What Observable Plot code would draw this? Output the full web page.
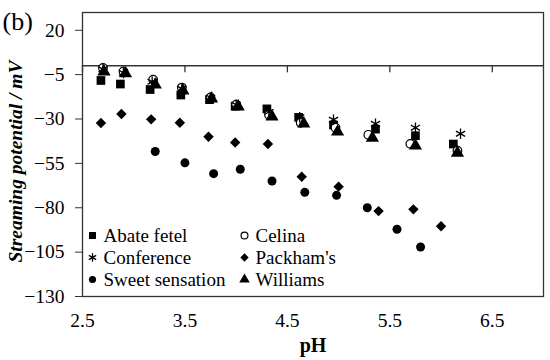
<!DOCTYPE html>
<html><head><meta charset="utf-8">
<script src="https://cdn.jsdelivr.net/npm/d3@7"></script>
<script src="https://cdn.jsdelivr.net/npm/@observablehq/plot@0.6"></script>
<style>body{margin:0;background:#fff} #chart{width:550px;height:360px} #chart svg, #chart svg text{font-family:"Liberation Serif", serif}</style>
</head><body><div id="chart"></div>
<script>
// ---- data ----
const seriesNames = ["Abate fetel", "Celina", "Conference", "Packham's", "Sweet sensation", "Williams"];

const pHAbate = [2.68, 2.87, 3.16, 3.46, 3.74, 3.99, 4.30, 4.61, 4.95, 5.36, 5.75, 6.12];
const spAbate = [-8.3, -10.3, -13.4, -16.5, -19.1, -22.8, -24.3, -29.1, -33.4, -35.7, -39.4, -44.1];

const pHCelina = [2.70, 2.90, 3.19, 3.47, 3.75, 4.00, 4.32, 4.63, 4.97, 5.29, 5.70, 6.16];
const spCelina = [-1.2, -3.2, -7.8, -12.3, -17.9, -21.9, -27.6, -32.1, -34.9, -38.9, -44.0, -47.9];

const pHConference = [2.70, 2.90, 3.18, 3.47, 3.75, 4.00, 4.32, 4.62, 4.95, 5.36, 5.75, 6.19];
const spConference = [-2.0, -4.0, -9.0, -13.0, -18.0, -22.0, -26.0, -29.0, -30.4, -32.7, -34.9, -38.3];

const pHPackham = [2.68, 2.88, 3.17, 3.45, 3.73, 3.99, 4.31, 4.64, 5.00, 5.39, 5.73, 6.00];
const spPackham = [-32.3, -27.2, -30.2, -32.1, -40.0, -43.2, -44.1, -62.5, -68.1, -81.9, -80.9, -90.4];

const pHSweet = [3.21, 3.50, 3.78, 4.04, 4.35, 4.67, 4.98, 5.28, 5.57, 5.80];
const spSweet = [-48.3, -54.7, -60.8, -58.3, -64.9, -71.3, -73.0, -80.0, -92.1, -102.1];

const pHWilliams = [2.71, 2.92, 3.21, 3.48, 3.76, 4.02, 4.35, 4.66, 4.99, 5.33, 5.75, 6.16];
const spWilliams = [-3.3, -4.4, -10.6, -14.0, -18.5, -23.0, -28.7, -32.6, -37.2, -40.6, -45.1, -49.1];

const xTicks = [2.5, 3.5, 4.5, 5.5, 6.5];
const yTicks = [20, -5, -30, -55, -80, -105, -130];

// ---- build tables ----
const toRows = (xs, ys) => xs.map((x, i) => ({pH: x, sp: ys[i]}));
const styles = [
  {symbol: "square", fill: "black", stroke: "none", r: 4.9},
  {symbol: "circle", fill: "white", stroke: "black", r: 4.3, strokeWidth: 1.2},
  {symbol: "asterisk", fill: "none", stroke: "black", r: 5, strokeWidth: 1.3},
  {symbol: "diamond2", fill: "black", stroke: "none", r: 4.7},
  {symbol: "circle", fill: "black", stroke: "none", r: 4.5},
  {symbol: "triangle", fill: "black", stroke: "none", r: 4.9}
];
const tables = [
  toRows(pHAbate, spAbate), toRows(pHCelina, spCelina), toRows(pHConference, spConference),
  toRows(pHPackham, spPackham), toRows(pHSweet, spSweet), toRows(pHWilliams, spWilliams)
];

const font = "Liberation Serif, serif";
const axisColor = "#333";

const dataMarks = tables.map((t, i) => Plot.dot(t, {x: "pH", y: "sp", ...styles[i]}));

// legend (inside the plot, lower left, 2 columns x 3 rows)
const legendMarks = [];
seriesNames.forEach((name, i) => {
  const col = i % 2, row = Math.floor(i / 2);
  const mx = [10, 162][col], tx = [21, 173][col];
  const ry = [223, 245, 267][row];
  const st = {...styles[i], r: styles[i].r * 0.8};
  legendMarks.push(Plot.dot([name], {frameAnchor: "top-left", dx: mx, dy: ry, ...st}));
  legendMarks.push(Plot.text([name], {frameAnchor: "top-left", dx: tx, dy: ry, text: d => d,
    textAnchor: "start", lineAnchor: "middle", fontSize: 19, fontFamily: font, fill: "black"}));
});

const chart = Plot.plot({
  width: 550, height: 360,
  marginLeft: 82, marginRight: 7, marginTop: 12, marginBottom: 64,
  x: {domain: [2.5, 7]},
  y: {domain: [-130, 30]},
  style: {fontFamily: font, background: "#fff", color: "black"},
  marks: [
    Plot.frame({stroke: axisColor, strokeWidth: 1.3}),
    Plot.axisY(yTicks, {tickSize: 7, tickPadding: 11, fontSize: 19.5, fontFamily: font, label: null, stroke: axisColor}),
    Plot.axisX(xTicks, {tickSize: 0, tickPadding: 17, fontSize: 19.5, fontFamily: font, label: null, tickFormat: d => String(d)}),
    Plot.ruleY([0], {stroke: axisColor, strokeWidth: 1.3}),
    Plot.ruleX(xTicks, {x: d => d, y1: 0, y2: -4, stroke: axisColor, strokeWidth: 1.3}),
    ...dataMarks,
    ...legendMarks,
    Plot.text(["Streaming potential / mV"], {frameAnchor: "left", dx: -67, dy: 7, rotate: -90, text: d => d,
      textAnchor: "middle", lineAnchor: "middle",
      fontSize: 19.5, fontFamily: font, fontWeight: "bold", fontStyle: "italic", fill: "black"}),
    Plot.text(["pH"], {frameAnchor: "bottom", dy: 49, text: d => d, lineAnchor: "middle", textAnchor: "middle",
      fontSize: 20, fontFamily: font, fontWeight: "bold", fill: "black"}),
    Plot.text(["(b)"], {frameAnchor: "top-left", dx: -80, dy: 9, text: d => d, textAnchor: "start",
      lineAnchor: "middle", fontSize: 26, fontFamily: font, fill: "black"})
  ]
});
document.getElementById("chart").appendChild(chart);
</script>
</body></html>
